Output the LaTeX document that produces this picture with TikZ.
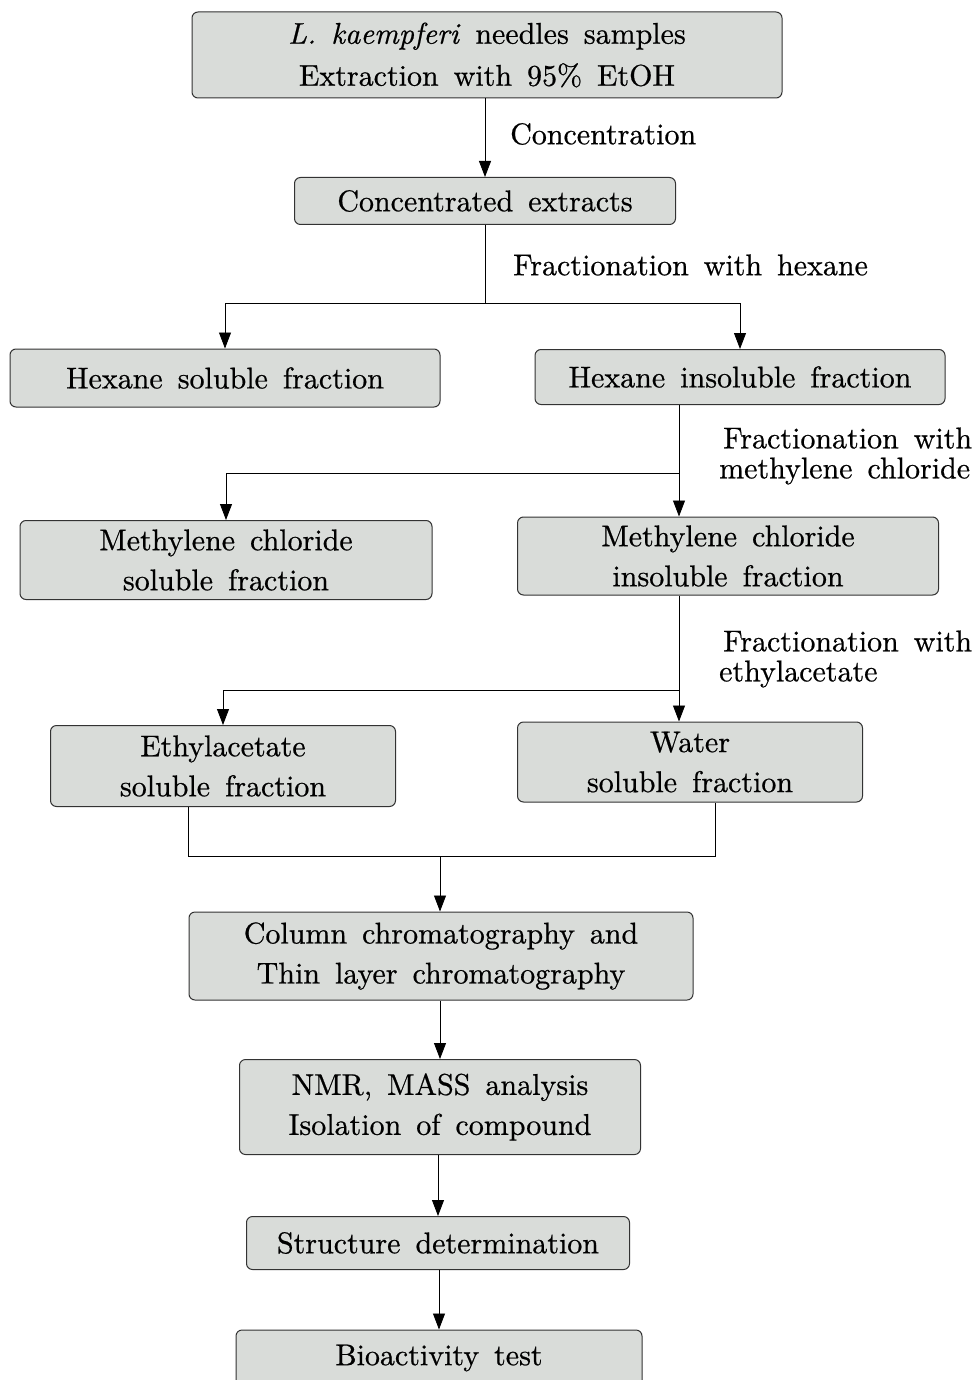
\documentclass[tikz,border=0pt]{standalone}
\usepackage{fontspec}
\setmainfont{lmroman10-regular.otf}[ItalicFont=lmroman10-italic.otf, FakeBold=0.6]
\usetikzlibrary{arrows.meta}
\definecolor{boxgray}{HTML}{D9DCD9}
\newcommand{\fsz}{\fontsize{30}{40}\selectfont\spaceskip=15pt plus 2pt minus 2pt\relax}
\newcommand{\lsz}{\fontsize{30}{30}\selectfont\spaceskip=15pt plus 2pt minus 2pt\relax}
\tikzset{
  fbox/.style={draw=black!80, fill=boxgray, rounded corners=6pt, line width=1pt,
    align=center, inner sep=0pt, font=\fsz},
  lbl/.style={anchor=west, align=left, inner sep=0pt, font=\lsz},
  arr/.style={-{Triangle[length=16pt,width=12pt]}, line width=0.8pt},
  ln/.style={line width=0.8pt}
}
\begin{document}
\begin{tikzpicture}[x=1pt,y=-1pt]
\useasboundingbox (0,0) rectangle (976,1380);
\clip (0,0) rectangle (976,1380);
% boxes
\node[fbox, minimum width=590, minimum height=86] (b1) at (487,55)
  {\textit{L. kaempferi} needles samples\\[2pt] Extraction with 95\% EtOH};
\node[fbox, minimum width=381, minimum height=47] (b2) at (485,201) {Concentrated extracts};
\node[fbox, minimum width=430, minimum height=58] (b3) at (225,378) {Hexane soluble fraction};
\node[fbox, minimum width=410, minimum height=55] (b4) at (740,377) {Hexane insoluble fraction};
\node[fbox, minimum width=412, minimum height=79] (b5) at (226,560) {Methylene chloride\\ soluble fraction};
\node[fbox, minimum width=421, minimum height=78] (b6) at (728,556) {Methylene chloride\\ insoluble fraction};
\node[fbox, minimum width=345, minimum height=81] (b7) at (223,766) {Ethylacetate\\ soluble fraction};
\node[fbox, minimum width=345, minimum height=80] (b8) at (690,762) {Water\\ soluble fraction};
\node[fbox, minimum width=504, minimum height=88] (b9) at (441,956) {Column chromatography and\\ Thin layer chromatography};
\node[fbox, minimum width=401, minimum height=95] (b10) at (440,1107) {NMR, MASS analysis\\ Isolation of compound};
\node[fbox, minimum width=383, minimum height=53] (b11) at (438,1243) {Structure determination};
\node[fbox, minimum width=406, minimum height=56] (b12) at (439,1358) {Bioactivity test};
% labels
\node[lbl] (l1) at (510,134) {Concentration};
\node[lbl] (l2) at (513,265) {Fractionation with hexane};
\node[lbl] (l3) at (719,456) {\hspace*{4pt}Fractionation with\\ methylene chloride};
\node[lbl] (l4) at (719,659) {\hspace*{4pt}Fractionation with\\ ethylacetate};
% junctions
\coordinate (j1) at (485,303);
\coordinate (j2) at (679,473);
\coordinate (j3) at (679,690);
\coordinate (j4) at (440,856);
\coordinate (j4l) at (188,856);
\coordinate (j4r) at (715,856);
% connectors
\draw[arr] (b1.south -| b2.north) -- (b2.north);
\draw[ln] (b2.south) -- (j1);
\draw[arr] (j1) -| (b3.north);
\draw[arr] (j1) -| (b4.north);
\draw[arr] (j2 |- b4.south) -- (j2 |- b6.north);
\draw[arr] (j2) -| (b5.north);
\draw[arr] (j3 |- b6.south) -- (j3 |- b8.north);
\draw[arr] (j3) -| (b7.north);
\draw[ln] (j4l |- b7.south) -- (j4l) -- (j4r) -- (j4r |- b8.south);
\draw[arr] (j4) -- (j4 |- b9.north);
\draw[arr] (b9.south -| b10.north) -- (b10.north);
\draw[arr] (b10.south -| b11.north) -- (b11.north);
\draw[arr] (b11.south -| b12.north) -- (b12.north);
\end{tikzpicture}
\end{document}
